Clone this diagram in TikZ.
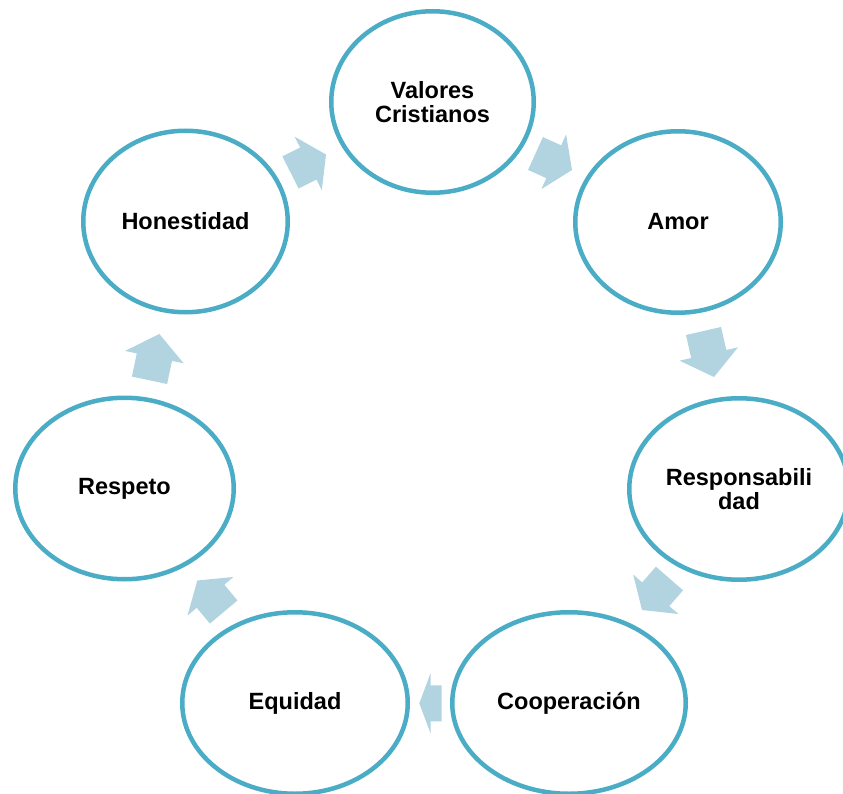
\documentclass[tikz,border=0pt]{standalone}
\usepackage{fontspec}
\setmainfont{Liberation Sans}
\usetikzlibrary{shapes.geometric,calc}

\definecolor{ringblue}{HTML}{4BACC6}
\definecolor{arrowblue}{HTML}{B1D4E0}

\tikzset{
  value/.style={shape=ellipse, draw=ringblue, line width=4.5pt, fill=white,
    inner sep=0pt, minimum height=181.5pt, align=center,
    font=\fontsize{23.5}{24.5}\selectfont\bfseries},
  arrowfill/.style={fill=arrowblue}
}

% block arrow from tail midpoint #1 to tip #2
\newcommand{\blockarrow}[2]{%
  \coordinate (ba-m) at ($(#1)!0.5!(#2)$);
  \fill[arrowfill] ($(#1)!18pt!90:(#2)$) -- ($(ba-m)!18pt!90:(#2)$)
    -- ($(ba-m)!30pt!90:(#2)$) -- (#2) -- ($(ba-m)!30pt!-90:(#2)$)
    -- ($(ba-m)!18pt!-90:(#2)$) -- ($(#1)!18pt!-90:(#2)$) -- cycle;
}

\begin{document}
\begin{tikzpicture}[x=1pt,y=-1pt]
  \useasboundingbox (0,0) rectangle (843,794);
  \clip (0,0) rectangle (843,794);

  % circle of values
  \node[value, minimum width=202.5pt] (val)  at (432.5,102) {Valores\\Cristianos};
  \node[value, minimum width=205.5pt] (amor) at (678,222)   {Amor};
  \node[value, minimum width=219.5pt] (resp) at (739,489)   {Responsabili\\dad};
  \node[value, minimum width=233.5pt] (coop) at (569,703)   {Cooperación};
  \node[value, minimum width=225.5pt] (equi) at (295,703)   {Equidad};
  \node[value, minimum width=218.5pt] (rspt) at (124.5,488.5) {Respeto};
  \node[value, minimum width=204.5pt] (hone) at (185.5,221.5) {Honestidad};

  % arrow ends
  \coordinate (a1t) at (535.5,153.5); \coordinate (a1h) at (572,170);
  \coordinate (a2t) at (703.5,331);   \coordinate (a2h) at (714,377);
  \coordinate (a3t) at (669.5,578.5); \coordinate (a3h) at (642,610);
  \coordinate (a4t) at (441.7,703.3); \coordinate (a4h) at (419.3,703.3);
  \coordinate (a5t) at (223.7,612);   \coordinate (a5h) at (197.3,580.5);
  \coordinate (a6t) at (149.5,380.3); \coordinate (a6h) at (159.3,334);
  \coordinate (a7t) at (290.5,172.5); \coordinate (a7h) at (326,154.5);

  \blockarrow{a1t}{a1h}
  \blockarrow{a2t}{a2h}
  \blockarrow{a3t}{a3h}
  \blockarrow{a4t}{a4h}
  \blockarrow{a5t}{a5h}
  \blockarrow{a6t}{a6h}
  \blockarrow{a7t}{a7h}
\end{tikzpicture}
\end{document}
